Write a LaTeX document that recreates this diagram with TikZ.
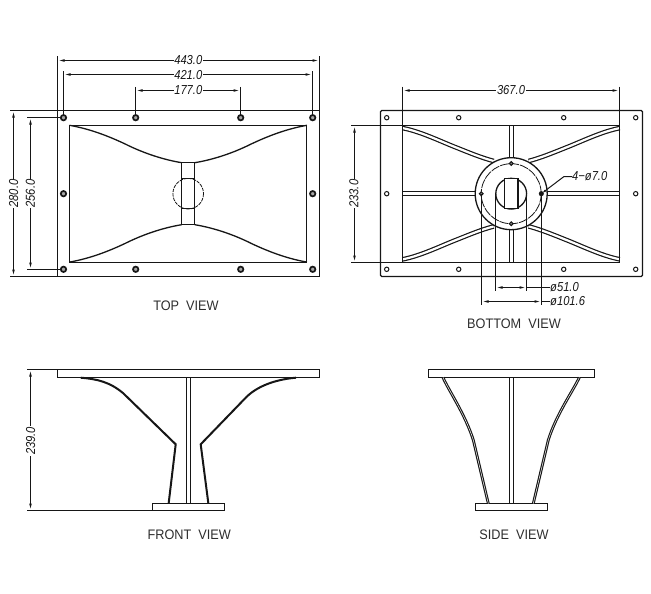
\documentclass[tikz,border=0pt]{standalone}
\usepackage{fontspec}
\setmainfont{Liberation Sans}
\newfontfamily\dimfont[FakeStretch=0.86]{Liberation Sans Italic}
\newfontfamily\viewfont[FakeStretch=0.92]{Liberation Sans}
\usetikzlibrary{arrows.meta}
\definecolor{ink}{HTML}{161616}
\tikzset{
  part/.style={draw=ink,line width=1.3pt},
  thick part/.style={draw=ink,line width=2pt,line join=miter},
  thin part/.style={draw=ink,line width=.8pt},
  ext/.style={draw=ink,line width=1pt},
  dimline/.style={draw=ink,line width=1pt,{Latex[length=7pt,width=2.6pt]}-{Latex[length=7pt,width=2.6pt]}},
  dimtext/.style={fill=white,inner sep=.6pt,text=ink,font=\dimfont\fontsize{13}{14}\selectfont},
  notetext/.style={inner sep=0pt,text=ink,font=\dimfont\fontsize{13}{14}\selectfont},
  viewlabel/.style={inner sep=0pt,text=ink!90,font=\viewfont\fontsize{13.8}{15}\selectfont},
  rib/.style={draw=ink,line width=1.2pt,double=white,double distance=2.2pt},
  straight rib/.style={draw=ink,line width=1.2pt,double=white,double distance=2.8pt},
  side rib/.style={draw=ink,line width=1.15pt,double=white,double distance=.5pt},
  holeA/.style={draw=ink,fill=gray!70,line width=1.7pt},
  holeB/.style={draw=ink,fill=white,line width=1pt},
  boltH/.style={draw=ink,fill=gray,line width=1pt}
}
\begin{document}
\begin{tikzpicture}[x=1pt,y=-1pt]
\useasboundingbox (0,0) rectangle (651,594);
% ---------- TOP VIEW
\draw[part] (57.5,110.5) rectangle (319.5,276.5);
\draw[part] (69.5,125.5) rectangle (306.5,262.5);
\foreach \hx in {63.5,135.7,240.7,312.7}
  \foreach \hy in {117.7,269.3}
    \draw[holeA] (\hx,\hy) circle (2.7);
\foreach \hx in {63.5,312.7} \draw[holeA] (\hx,193.7) circle (2.7);
\begin{scope}[shift={(188.2,193.7)}]
\foreach \sx/\sy in {1/1,-1/1,1/-1,-1/-1}
  \draw[part,xscale=\sx,yscale=\sy] (-118.7,-68.4) .. controls (-98,-64.7) and (-80,-57.7) .. (-63,-49.7) .. controls (-43,-39.7) and (-23,-33.7) .. (-6.5,-31);
\end{scope}
\draw[part] (181.5,162.5) rectangle (194.5,224.5);
\draw[part] (181.5,178.5) -- (194.5,178.5) (181.5,208.5) -- (194.5,208.5);
\draw[thin part,dash pattern=on 3.5pt off 1pt] (188.2,193.7) circle (15.3);
% dims top
\draw[ext] (57.5,56.5) -- (57.5,111);
\draw[ext] (319.5,56.5) -- (319.5,111);
\draw[ext] (63.5,71.5) -- (63.5,115);
\draw[ext] (312.5,71.5) -- (312.5,115);
\draw[ext] (135.5,87) -- (135.5,115);
\draw[ext] (240.5,87) -- (240.5,115);
\draw[dimline] (57.5,60.5) -- (319.5,60.5);
\draw[dimline] (63.5,74.5) -- (312.5,74.5);
\draw[dimline] (135.5,90.5) -- (240.5,90.5);
\node[dimtext] (d443) at (188.3,60) {443.0};
\node[dimtext] (d421) at (188.3,74.7) {421.0};
\node[dimtext] (d177) at (188.3,90) {177.0};
\draw[ext] (10,110.5) -- (57.5,110.5);
\draw[ext] (10,276.5) -- (57.5,276.5);
\draw[ext] (27,117.5) -- (60.5,117.5);
\draw[ext] (27,269.5) -- (60.5,269.5);
\draw[dimline] (13.5,110.5) -- (13.5,276.5);
\draw[dimline] (30.5,117.5) -- (30.5,269.5);
\node[dimtext,rotate=90] (d280) at (13.7,193.5) {280.0};
\node[dimtext,rotate=90] (d256) at (30.3,193.5) {256.0};
\node[viewlabel] (ltop) at (186,305.7) {TOP\ \ VIEW};
% ---------- BOTTOM VIEW
\draw[part,rounded corners=1.2pt] (380.5,110.5) rectangle (642.5,276.5);
\foreach \hx in {386.7,458.7,563.7,635.7}
  \foreach \hy in {117.7,269.3}
    \draw[holeB] (\hx,\hy) circle (2.2);
\foreach \hx in {386.7,635.7} \draw[holeB] (\hx,193.7) circle (2.2);
\begin{scope}[shift={(511.2,193.7)}]
\foreach \sx/\sy in {1/1,-1/1,1/-1,-1/-1}
  \draw[rib,xscale=\sx,yscale=\sy] (-108.5,-65.6) .. controls (-90,-62) and (-70,-52) .. (-54.5,-46) .. controls (-42,-41) and (-30,-36) .. (-17.5,-32.7);
\end{scope}
\draw[straight rib] (511.5,125.5) -- (511.5,164);
\draw[straight rib] (511.5,262.5) -- (511.5,224);
\draw[straight rib] (402.5,193.5) -- (481,193.5);
\draw[straight rib] (619.5,193.5) -- (541,193.5);
\begin{scope}[shift={(511.2,193.7)}]
\draw[part,fill=white] (0,0) circle (36);
\draw[thin part,dash pattern=on 9pt off 1pt] (0,0) circle (30);
\draw[part] (0,0) circle (15.4);
\draw[part,fill=white] (-6.8,-15.4) rectangle (6.8,14.6);
\end{scope}
\draw[part] (402.5,125.5) rectangle (619.5,262.5);
\foreach \bx/\by in {511.2/163.5,511.2/223.7,481.3/193.7}
  \draw[boltH] (\bx,\by) circle (1.9);
\draw[draw=ink,fill=ink] (541.3,193.7) circle (2.3);
% dims bottom
\draw[ext] (402.5,86.7) -- (402.5,125);
\draw[ext] (619.5,86.7) -- (619.5,125);
\draw[dimline] (402.5,90.5) -- (619.5,90.5);
\node[dimtext] (d367) at (511,90) {367.0};
\draw[ext] (351,125.5) -- (402.5,125.5);
\draw[ext] (351,262.5) -- (402.5,262.5);
\draw[dimline] (354.5,125.5) -- (354.5,262.5);
\node[dimtext,rotate=90] (d233) at (354,193.7) {233.0};
\coordinate (bolt) at (541.3,193.7);
\coordinate (lead) at (564,176.5);
\node[notetext,anchor=west] (n4) at (572,176.5) {4−ø7.0};
\draw[ext,{Latex[length=5pt,width=2.2pt]}-] (bolt) -- (lead) -- (n4.west);
\draw[ext] (481.5,193.7) -- (481.5,304.5);
\draw[ext] (541.5,193.7) -- (541.5,304.5);
\draw[ext] (495.5,193.7) -- (495.5,291);
\draw[ext] (526.5,193.7) -- (526.5,291);
\node[notetext,anchor=west] (n51) at (550,287.5) {ø51.0};
\node[notetext,anchor=west] (n101) at (550,301.5) {ø101.6};
\draw[dimline] (495.5,287.5) -- (526.5,287.5);
\draw[ext] (526.5,287.5) -- (n51.west);
\draw[dimline] (481.5,301.5) -- (541.5,301.5);
\draw[ext] (541.5,301.5) -- (n101.west);
\node[viewlabel] (lbot) at (514,324) {BOTTOM\ \ VIEW};
% ---------- FRONT VIEW
\draw[part] (57.5,369.5) rectangle (319.5,377.5);
\draw[part] (152.5,503.5) rectangle (224.5,510.5);
\draw[part] (186.5,377.5) -- (186.5,503.5) (190.5,377.5) -- (190.5,503.5);
\draw[thick part] (80.7,377.7) .. controls (97,379) and (110,382) .. (123.3,393.3) -- (175.7,444.3) -- (168.7,503);
\draw[thick part] (296,377.7) .. controls (280,379) and (260,384) .. (246.7,396.7) -- (200.7,444.3) -- (208.3,503);
\draw[ext] (27,369.5) -- (57.5,369.5);
\draw[ext] (27,510.5) -- (152.5,510.5);
\draw[dimline] (30.5,369.5) -- (30.5,510.5);
\node[dimtext,rotate=90] (d239) at (30.7,441) {239.0};
\node[viewlabel] (lfront) at (189.3,535) {FRONT\ \ VIEW};
% ---------- SIDE VIEW
\draw[part] (428.5,369.5) rectangle (594.5,377.5);
\draw[part] (475.5,503.5) rectangle (547.5,510.5);
\draw[part] (509.5,377.5) -- (509.5,503.5) (513.5,377.5) -- (513.5,503.5);
\draw[side rib] (443,377.5) .. controls (449,391) and (465,414) .. (473.3,440) -- (488.3,503.5);
\draw[side rib] (579.3,377.5) .. controls (573,391) and (556.5,414) .. (548.3,440) -- (533.3,503.5);
\node[viewlabel] (lside) at (514,535) {SIDE\ \ VIEW};
\end{tikzpicture}
\end{document}
